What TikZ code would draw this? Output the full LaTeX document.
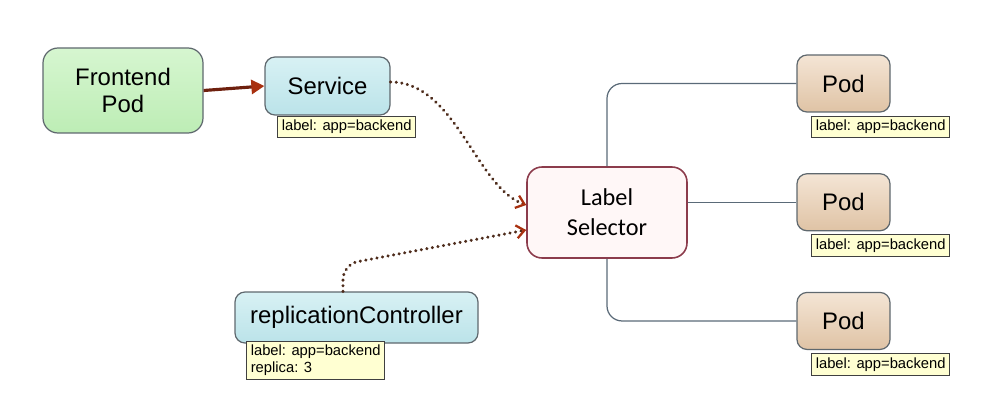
\documentclass[tikz,border=0pt]{standalone}
\usepackage{fontspec}
\setmainfont{Liberation Sans}
\newfontfamily\selfont{Carlito}
\usepackage{tikz}
\usetikzlibrary{positioning, arrows.meta, calc}

\definecolor{boxline}{HTML}{5F686E}
\definecolor{fpTop}{HTML}{D6F6D0}
\definecolor{fpBot}{HTML}{BDEDB5}
\definecolor{svTop}{HTML}{D8F1F4}
\definecolor{svBot}{HTML}{BBE3E9}
\definecolor{podTop}{HTML}{F4E5D5}
\definecolor{podBot}{HTML}{DFC3A5}
\definecolor{selFill}{HTML}{FFF7F7}
\definecolor{selLine}{HTML}{8C3C4C}
\definecolor{tagFill}{HTML}{FFFFD2}
\definecolor{tagLine}{HTML}{404040}
\definecolor{linkcol}{HTML}{5A6A78}
\definecolor{dotbrown}{HTML}{4E2C1C}
\definecolor{arrowbrown}{HTML}{6E200E}
\definecolor{tipred}{HTML}{A8300F}

\begin{document}
\begin{tikzpicture}[
  box/.style={draw=boxline, line width=0.7pt, rounded corners=0.2cm, align=center, font=\fontsize{13.6}{15.5}\selectfont},
  fpbox/.style={box, top color=fpTop, bottom color=fpBot, minimum width=3.2cm, minimum height=1.7cm, rounded corners=0.3cm},
  svbox/.style={box, top color=svTop, bottom color=svBot},
  podbox/.style={box, top color=podTop, bottom color=podBot, minimum width=1.86cm, minimum height=1.14cm},
  selbox/.style={draw=selLine, fill=selFill, line width=0.9pt, rounded corners=0.3cm, align=center, minimum width=3.2cm, minimum height=1.82cm, font=\selfont\fontsize{13.8}{17}\selectfont},
  tagbox/.style={draw=tagLine, fill=tagFill, line width=0.6pt, inner sep=2.2pt, align=left, anchor=north west, font=\fontsize{8.4}{9.6}\selectfont},
  podlink/.style={draw=linkcol, line width=0.7pt, rounded corners=0.3cm},
  dotlink/.style={draw=dotbrown, line width=1.9pt, line cap=round, dash pattern=on 0.01pt off 3.2pt,
    -{Straight Barb[length=1.6mm, width=2.6mm, line width=1.3pt, color=tipred]}}
]
  \useasboundingbox (0,0) rectangle (19.62,8.22);

  % 1. Main boxes
  \node[fpbox] (front) at (2.46,6.41) {Frontend\\Pod};
  \node[svbox, minimum width=2.5cm, minimum height=1.16cm] (svc) at (6.55,6.5) {Service};
  \node[selbox] (sel) at (12.14,3.97) {Label\\Selector};
  \node[svbox, minimum width=4.86cm, minimum height=1.02cm] (rc) at (7.13,1.87) {replicationController};

  % 2. Pods (right column)
  \node[podbox] (pod1) at (16.87,6.55) {Pod};
  \node[podbox, below=1.21cm of pod1] (pod2) {Pod};
  \node[podbox, below=1.21cm of pod2] (pod3) {Pod};

  % 3. Label tags under the boxes
  \node[tagbox] (svctag) at ($(svc.south west)+(0.26,0)$) {label: app=backend};
  \node[tagbox] (rctag) at ($(rc.south west)+(0.24,0.06)$) {label: app=backend\\replica: 3};
  \node[tagbox] (tag1) at ($(pod1.south west)+(0.30,-0.06)$) {label: app=backend};
  \node[tagbox] (tag2) at ($(pod2.south west)+(0.30,-0.06)$) {label: app=backend};
  \node[tagbox] (tag3) at ($(pod3.south west)+(0.30,-0.06)$) {label: app=backend};

  % 4. Selector to pods
  \draw[podlink] (sel.north) |- (pod1.west);
  \draw[podlink] (pod2.west -| sel.east) -- (pod2.west);
  \draw[podlink] (sel.south) |- (pod3.west);

  % 5. Frontend to service
  \draw[draw=arrowbrown, line width=1.8pt, -{Triangle[length=2.6mm, width=2.8mm, color=tipred]}] (front.east) -- (svc.west);

  % 6. Dotted links into the selector
  \draw[dotlink] ($(svc.east)+(0,0.08)$) .. controls +(1.3,0) and +(-1.0,0.35) .. ($(sel.west)+(0,0.15)$);
  \draw[dotlink, rounded corners=0.3cm] ($(rc.north)+(-0.27,0)$) -- ++(0,0.54) -- ($(sel.west)+(0,-0.35)$);

\end{tikzpicture}
\end{document}
